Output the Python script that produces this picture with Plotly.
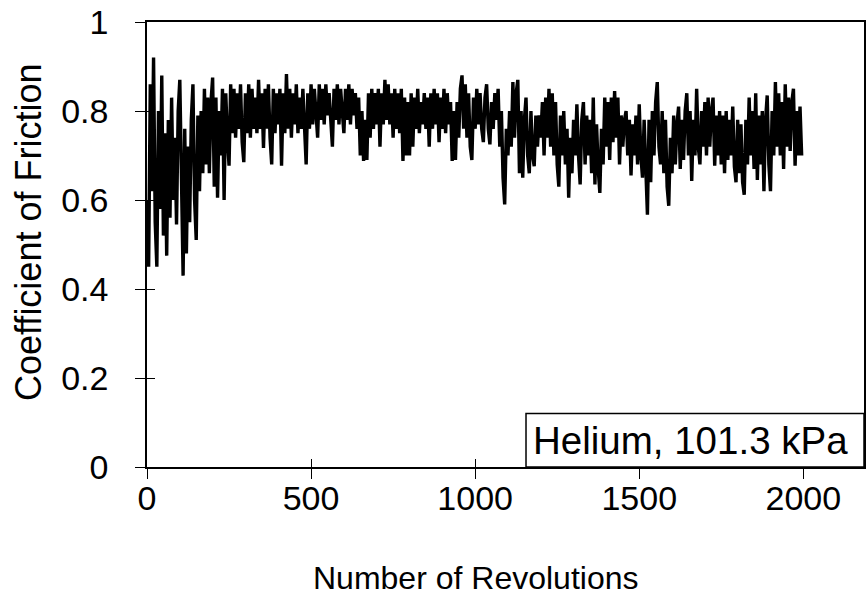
import plotly.graph_objects as go

# Revolution index of each reading (every 5 revolutions)
revolutions = list(range(0, 2000, 5))

# Coefficient of friction (dense oscillating signal)
cof = [
    0.60, 0.45, 0.86, 0.62, 0.92, 0.55, 0.45, 0.80, 0.58, 0.88, 0.52, 0.75, 0.475, 0.78, 0.56, 0.83, 0.60, 0.74, 0.545, 0.80,
    0.87, 0.58, 0.43, 0.76, 0.48, 0.72, 0.55, 0.78, 0.86, 0.60, 0.51, 0.79, 0.62, 0.80, 0.66, 0.85, 0.68, 0.83, 0.66, 0.82,
    0.875, 0.63, 0.83, 0.605, 0.80, 0.70, 0.85, 0.60, 0.84, 0.74, 0.677, 0.86, 0.75, 0.85, 0.74, 0.84, 0.76, 0.86, 0.73, 0.685,
    0.84, 0.75, 0.86, 0.74, 0.85, 0.76, 0.83, 0.75, 0.87, 0.76, 0.84, 0.717, 0.85, 0.76, 0.86, 0.74, 0.68, 0.85, 0.75, 0.84,
    0.77, 0.85, 0.677, 0.84, 0.75, 0.883, 0.76, 0.85, 0.74, 0.84, 0.77, 0.86, 0.75, 0.83, 0.76, 0.85, 0.74, 0.68, 0.84, 0.76,
    0.86, 0.77, 0.85, 0.78, 0.74, 0.86, 0.78, 0.85, 0.77, 0.86, 0.79, 0.84, 0.76, 0.72, 0.85, 0.78, 0.86, 0.77, 0.85, 0.79,
    0.75, 0.85, 0.78, 0.86, 0.77, 0.85, 0.79, 0.84, 0.76, 0.83, 0.70, 0.80, 0.688, 0.78, 0.69, 0.84, 0.74, 0.85, 0.76, 0.84,
    0.77, 0.85, 0.72, 0.84, 0.77, 0.87, 0.78, 0.86, 0.77, 0.84, 0.74, 0.85, 0.76, 0.84, 0.75, 0.85, 0.688, 0.83, 0.70, 0.82,
    0.70, 0.84, 0.72, 0.83, 0.76, 0.85, 0.75, 0.82, 0.77, 0.84, 0.76, 0.83, 0.72, 0.84, 0.76, 0.85, 0.77, 0.84, 0.73, 0.83,
    0.76, 0.85, 0.75, 0.84, 0.77, 0.82, 0.688, 0.80, 0.69, 0.82, 0.74, 0.85, 0.88, 0.76, 0.86, 0.74, 0.84, 0.72, 0.69, 0.83,
    0.76, 0.85, 0.77, 0.84, 0.76, 0.73, 0.83, 0.86, 0.76, 0.725, 0.82, 0.76, 0.84, 0.78, 0.85, 0.72, 0.80, 0.65, 0.59, 0.76,
    0.70, 0.80, 0.72, 0.865, 0.74, 0.84, 0.87, 0.66, 0.80, 0.65, 0.78, 0.83, 0.70, 0.66, 0.80, 0.70, 0.676, 0.79, 0.72, 0.79,
    0.74, 0.82, 0.70, 0.83, 0.74, 0.85, 0.72, 0.84, 0.70, 0.82, 0.68, 0.63, 0.79, 0.70, 0.80, 0.68, 0.76, 0.605, 0.74, 0.66,
    0.78, 0.70, 0.815, 0.70, 0.635, 0.78, 0.82, 0.68, 0.79, 0.70, 0.78, 0.66, 0.83, 0.635, 0.77, 0.67, 0.616, 0.76, 0.68, 0.83,
    0.72, 0.82, 0.69, 0.83, 0.73, 0.845, 0.74, 0.83, 0.68, 0.79, 0.72, 0.78, 0.80, 0.70, 0.78, 0.655, 0.77, 0.70, 0.79, 0.68,
    0.815, 0.70, 0.65, 0.78, 0.66, 0.567, 0.78, 0.64, 0.80, 0.70, 0.82, 0.865, 0.72, 0.68, 0.80, 0.66, 0.78, 0.63, 0.587, 0.74,
    0.66, 0.79, 0.68, 0.77, 0.81, 0.67, 0.78, 0.69, 0.80, 0.84, 0.70, 0.80, 0.643, 0.78, 0.70, 0.85, 0.72, 0.68, 0.80, 0.72,
    0.82, 0.70, 0.83, 0.72, 0.80, 0.83, 0.677, 0.79, 0.70, 0.80, 0.68, 0.79, 0.66, 0.80, 0.69, 0.78, 0.70, 0.81, 0.675, 0.64,
    0.78, 0.66, 0.77, 0.64, 0.612, 0.78, 0.68, 0.83, 0.70, 0.80, 0.67, 0.84, 0.645, 0.79, 0.68, 0.80, 0.62, 0.78, 0.835, 0.68,
    0.62, 0.80, 0.70, 0.865, 0.72, 0.84, 0.70, 0.82, 0.67, 0.86, 0.72, 0.83, 0.71, 0.82, 0.85, 0.677, 0.80, 0.70, 0.81, 0.70,
]

x_ticks = [0, 500, 1000, 1500, 2000]
y_ticks = [0, 0.2, 0.4, 0.6, 0.8, 1.0]
y_tick_text = ["0", "0.2", "0.4", "0.6", "0.8", "1"]
x_range = [0, 2185]
y_range = [0, 1]

x_title = "Number of Revolutions"
y_title = "Coefficient of Friction"
label_text = "Helium, 101.3 kPa"
label_box_x = [1155, 2185]
label_box_y = [0, 0.12]

FONT = "Liberation Sans, Arial, sans-serif"

fig = go.Figure()
fig.add_trace(go.Scatter(
    x=revolutions, y=cof, mode="lines",
    line=dict(color="black", width=3.4),
    showlegend=False, hoverinfo="skip",
))
# empty trace to host the outside-tick overlay axes
fig.add_trace(go.Scatter(x=[], y=[], xaxis="x2", yaxis="y2", showlegend=False))

axis_common = dict(showgrid=False, zeroline=False, color="black",
                   tickfont=dict(family=FONT, size=34, color="black"))

fig.update_layout(
    width=868, height=597,
    margin=dict(l=147, r=2, t=22, b=130),
    paper_bgcolor="white", plot_bgcolor="white",
    font=dict(family=FONT, color="black"),
    xaxis=dict(range=x_range, tickvals=x_ticks, ticks="inside", ticklen=8,
               tickwidth=1.3, tickcolor="black",
               showline=True, linecolor="black", linewidth=1.5, mirror=True,
               ticklabelstandoff=0,
               **axis_common),
    yaxis=dict(range=y_range, tickvals=y_ticks, ticktext=y_tick_text, ticks="inside",
               ticklen=8, tickwidth=1.3, tickcolor="black",
               showline=True, linecolor="black", linewidth=1.5, mirror=True,
               ticklabelstandoff=30,
               **axis_common),
    xaxis2=dict(range=x_range, tickvals=x_ticks, ticks="outside", ticklen=11, tickwidth=1.3,
                tickcolor="black", showticklabels=False, showline=False, showgrid=False,
                zeroline=False, overlaying="x", anchor="y"),
    yaxis2=dict(range=y_range, tickvals=y_ticks, ticks="outside", ticklen=11, tickwidth=1.3,
                tickcolor="black", showticklabels=False, showline=False, showgrid=False,
                zeroline=False, overlaying="y", anchor="x"),
)

# axis titles (placed as in the original, slightly off-centre)
fig.add_annotation(text=x_title, xref="paper", yref="paper", x=0.4576, y=-0.249,
                   xanchor="center", yanchor="middle", showarrow=False,
                   font=dict(family=FONT, size=32, color="black"))
fig.add_annotation(text=y_title, xref="paper", yref="paper", x=-0.166, y=0.528,
                   xanchor="center", yanchor="middle", textangle=-90, showarrow=False,
                   font=dict(family=FONT, size=36, color="black"))

fig.add_shape(type="rect", xref="x", yref="y",
              x0=label_box_x[0], x1=label_box_x[1], y0=label_box_y[0], y1=label_box_y[1],
              line=dict(color="black", width=1.5), fillcolor="white", layer="above")
fig.add_annotation(x=label_box_x[0], y=(label_box_y[0] + label_box_y[1]) / 2,
                   xref="x", yref="y", xanchor="left", yanchor="middle",
                   xshift=5, text=label_text, showarrow=False,
                   font=dict(family=FONT, size=38.5, color="black"))

fig.write_html("out.html")
